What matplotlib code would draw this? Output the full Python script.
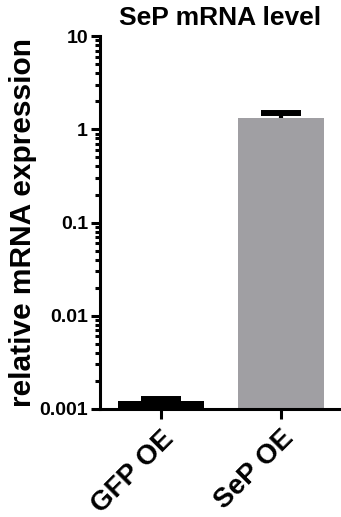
import matplotlib
matplotlib.use("Agg")
import matplotlib.pyplot as plt
from matplotlib.ticker import LogLocator, FixedLocator, NullFormatter

plt.rcParams["font.family"] = ["Liberation Sans", "DejaVu Sans"]
plt.rcParams["font.weight"] = "bold"

groups = ["GFP OE", "SeP OE"]
means = [0.00122, 1.31]
errs = [0.00007, 0.18]
colors = ["#000000", "#a09fa3"]
yticks = [0.001, 0.01, 0.1, 1, 10]
ytick_labels = ["0.001", "0.01", "0.1", "1", "10"]

fig = plt.figure(figsize=(3.41, 5.17), dpi=100)
ax = fig.add_axes([0.293, 0.209, 0.707, 0.721])

x = list(range(len(groups)))
ax.bar(x, means, width=0.71, color=colors, zorder=2)
# symmetric error bars drawn under the bars, so only the upper half shows
ax.errorbar(x, means, yerr=errs, fmt="none", ecolor="black",
            elinewidth=3, capsize=14.5, capthick=4.3, zorder=1)

ax.set_yscale("log")
ax.set_ylim(0.001, 10)
ax.set_xlim(-0.508, 1.5)
ax.yaxis.set_major_locator(FixedLocator(yticks))
ax.set_yticklabels(ytick_labels)
ax.yaxis.set_minor_locator(LogLocator(base=10, subs=range(2, 10)))
ax.yaxis.set_minor_formatter(NullFormatter())

ax.set_xticks(x)
ax.set_xticklabels(groups, rotation=45, ha="right", rotation_mode="anchor",
                   fontsize=20, fontweight="bold")
for lab in ax.get_yticklabels():
    lab.set_fontsize(14)
    lab.set_fontweight("bold")

for s in ["top", "right"]:
    ax.spines[s].set_visible(False)
for s in ["left", "bottom"]:
    ax.spines[s].set_linewidth(2.2)

ax.tick_params(axis="y", which="major", length=6.5, width=2.2, pad=2)
ax.tick_params(axis="y", which="minor", length=3.5, width=2.2)
ax.tick_params(axis="x", which="major", length=7, width=2.2, pad=5)

ax.set_ylabel("relative mRNA expression", fontsize=21.5, fontweight="bold", labelpad=2)
ax.set_title("SeP mRNA level", fontsize=19, fontweight="bold", pad=8)

fig.savefig("out.png", dpi=100)
